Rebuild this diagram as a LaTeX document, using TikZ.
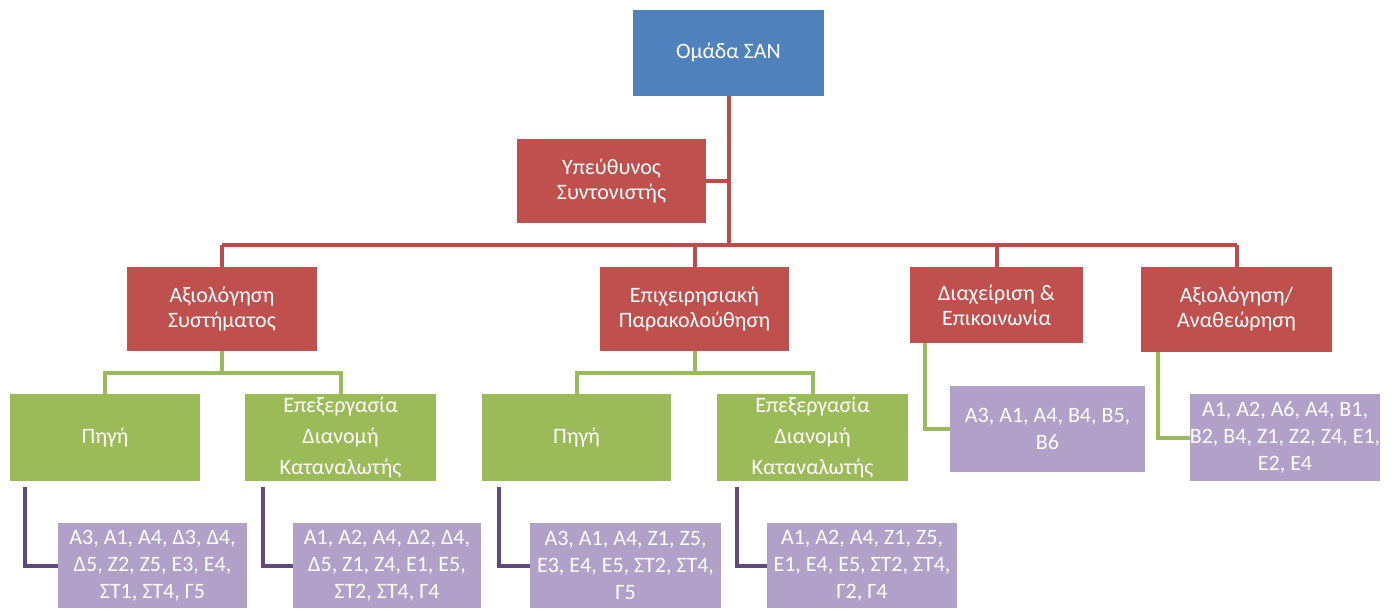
\documentclass[tikz,border=0pt]{standalone}
\usepackage{fontspec}
\setmainfont{Carlito}
\usetikzlibrary{calc}
\definecolor{cblue}{HTML}{4F81BD}
\definecolor{cred}{HTML}{C0504D}
\definecolor{cgreen}{HTML}{9BBB59}
\definecolor{cpurp}{HTML}{B1A0C7}
\definecolor{lred}{HTML}{BA4C4A}
\definecolor{lgreen}{HTML}{9BBB59}
\definecolor{lpurp}{HTML}{604A7B}
\tikzset{
  box/.style={rectangle, inner sep=0pt, text=white, align=center, font=\fontsize{22}{25}\selectfont},
  bluebox/.style={box, fill=cblue},
  redbox/.style={box, fill=cred},
  greenbox/.style={box, fill=cgreen, font=\fontsize{22}{31}\selectfont},
  purpbox/.style={box, fill=cpurp, font=\fontsize{22}{27}\selectfont},
  redline/.style={draw=lred, line width=4pt},
  greenline/.style={draw=lgreen, line width=4pt},
  purpline/.style={draw=lpurp, line width=4pt},
}
\begin{document}
\begin{tikzpicture}[x=1pt,y=-1pt]
\useasboundingbox (0,0) rectangle (1396,610);
% boxes
\node[bluebox, minimum width=191pt, minimum height=86pt] (top) at (728.5,53) {Ομάδα ΣΑΝ};
\node[redbox, minimum width=189pt, minimum height=84pt] (coord) at (611.5,181) {Υπεύθυνος\\Συντονιστής};
\node[redbox, minimum width=190pt, minimum height=84pt] (r1) at (222,309) {Αξιολόγηση\\Συστήματος};
\node[redbox, minimum width=189pt, minimum height=84pt] (r2) at (694.5,309) {Επιχειρησιακή\\Παρακολούθηση};
\node[redbox, minimum width=173pt, minimum height=76pt] (r3) at (996.5,305) {Διαχείριση \&\\Επικοινωνία};
\node[redbox, minimum width=191pt, minimum height=85pt] (r4) at (1236.5,309.5) {Αξιολόγηση/\\Αναθεώρηση};
\node[greenbox, minimum width=190pt, minimum height=87pt] (g1) at (105,437.5) {Πηγή};
\node[greenbox, minimum width=191pt, minimum height=87pt] (g2) at (340.5,437.5) {Επεξεργασία\\Διανομή\\Καταναλωτής};
\node[greenbox, minimum width=189pt, minimum height=87pt] (g3) at (576.5,437.5) {Πηγή};
\node[greenbox, minimum width=191pt, minimum height=87pt] (g4) at (812.5,437.5) {Επεξεργασία\\Διανομή\\Καταναλωτής};
\node[purpbox, minimum width=189pt, minimum height=85pt] (p1) at (152.5,565.5) {Α3, Α1, Α4, Δ3, Δ4,\\Δ5, Ζ2, Ζ5, Ε3, Ε4,\\ΣΤ1, ΣΤ4, Γ5};
\node[purpbox, minimum width=188pt, minimum height=85pt] (p2) at (387,565.5) {Α1, Α2, Α4, Δ2, Δ4,\\Δ5, Ζ1, Ζ4, Ε1, Ε5,\\ΣΤ2, ΣΤ4, Γ4};
\node[purpbox, minimum width=191pt, minimum height=85pt] (p3) at (625.5,565.5) {Α3, Α1, Α4, Ζ1, Ζ5,\\Ε3, Ε4, Ε5, ΣΤ2, ΣΤ4,\\Γ5};
\node[purpbox, minimum width=190pt, minimum height=85pt] (p4) at (862,565.5) {Α1, Α2, Α4, Ζ1, Ζ5,\\Ε1, Ε4, Ε5, ΣΤ2, ΣΤ4,\\Γ2, Γ4};
\node[purpbox, minimum width=195pt, minimum height=86pt] (p5) at (1047.5,429) {Α3, Α1, Α4, Β4, Β5,\\Β6};
\node[purpbox, minimum width=190pt, minimum height=87pt] (p6) at (1285,437.5) {Α1, Α2, Α6, Α4, Β1,\\Β2, Β4, Ζ1, Ζ2, Ζ4, Ε1,\\Ε2, Ε4};
% bus coordinates
\coordinate (bus) at (0,245);
\coordinate (gb) at (0,373);
% red connectors
\draw[redline] (top.south) -- (top.south |- bus);
\draw[redline] (coord.east) -- (coord.east -| top.south);
\draw[redline] (r1.north |- bus) -- (r4.north |- bus);
\draw[redline] (r1.north) -- (r1.north |- bus);
\draw[redline] (r2.north) -- (r2.north |- bus);
\draw[redline] (r3.north) -- (r3.north |- bus);
\draw[redline] (r4.north) -- (r4.north |- bus);
% green connectors
\draw[greenline] (r1.south) -- (r1.south |- gb);
\draw[greenline] (g1.north) -- (g1.north |- gb) -- (g2.north |- gb) -- (g2.north);
\draw[greenline] (r2.south) -- (r2.south |- gb);
\draw[greenline] (g3.north) -- (g3.north |- gb) -- (g4.north |- gb) -- (g4.north);
\draw[greenline] ($(r3.south west)+(15,0)$) |- (p5.west);
\draw[greenline] ($(r4.south west)+(17,0)$) |- (p6.west);
% purple connectors
\draw[purpline] ($(g1.south west)+(15,6)$) |- (p1.west);
\draw[purpline] ($(g2.south west)+(18,6)$) |- (p2.west);
\draw[purpline] ($(g3.south west)+(17,6)$) |- (p3.west);
\draw[purpline] ($(g4.south west)+(20,6)$) |- (p4.west);
\end{tikzpicture}
\end{document}
